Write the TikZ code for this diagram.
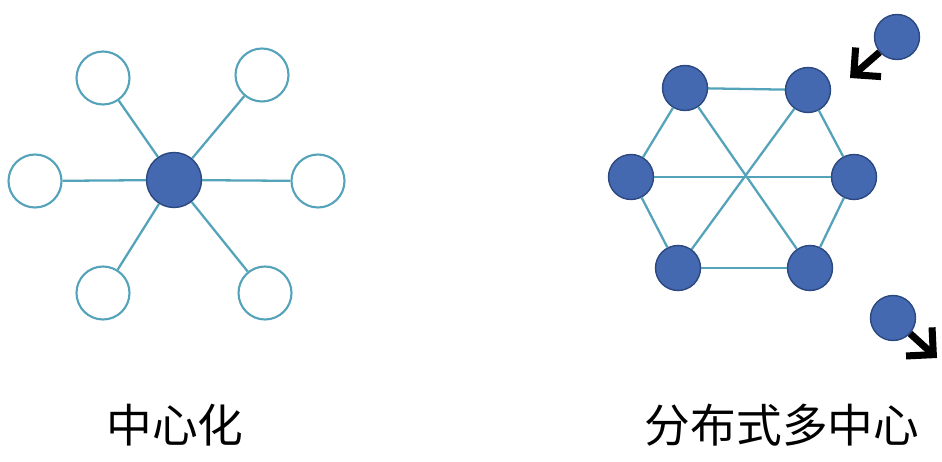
\documentclass[tikz,border=0pt]{standalone}
\usepackage{fontspec}
\newfontfamily\cjk{Noto Sans CJK SC}
\usetikzlibrary{arrows.meta}
\definecolor{linkc}{RGB}{84,163,186}
\definecolor{hubc}{RGB}{68,105,176}
\definecolor{hubdraw}{RGB}{44,72,128}
\tikzstyle{leaf} = [draw=linkc, line width=1.2pt, fill=white, circle, minimum size=1.06cm, inner sep=0pt]
\tikzstyle{hub} = [draw=hubdraw, line width=0.8pt, fill=hubc, circle, minimum size=1.1cm, inner sep=0pt]
\tikzstyle{peer} = [draw=hubdraw, line width=0.8pt, fill=hubc, circle, minimum size=0.9cm, inner sep=0pt]
\tikzstyle{link} = [draw=linkc, line width=1.3pt]
\tikzstyle{move} = [line width=4pt, -{Straight Barb[length=11pt,width=22pt]}]
\tikzstyle{caption} = [font=\cjk\fontsize{26}{30}\selectfont]

\begin{document}
\begin{tikzpicture}[x=0.02cm,y=-0.02cm]
	\useasboundingbox (0,0) rectangle (942,462);
	% centralised star
	\node [hub] (c) at (174,180) {};
	\node [leaf] (l1) at (103,78) {};
	\node [leaf] (l2) at (262,75) {};
	\node [leaf] (l3) at (35,181) {};
	\node [leaf] (l4) at (318,181) {};
	\node [leaf] (l5) at (103,293) {};
	\node [leaf] (l6) at (265,293) {};
	\foreach \i in {1,...,6}
		\draw [link] (c) -- (l\i);

	% distributed hexagon
	\node [peer] (p1) at (685,88) {};
	\node [peer] (p2) at (808,90) {};
	\node [peer] (p3) at (854,177) {};
	\node [peer] (p4) at (810,268) {};
	\node [peer] (p5) at (678,268) {};
	\node [peer] (p6) at (631,177) {};
	\draw [link] (p1) -- (p2);
	\draw [link] (p2) -- (p3);
	\draw [link] (p3) -- (p4);
	\draw [link] (p4) -- (p5);
	\draw [link] (p5) -- (p6);
	\draw [link] (p6) -- (p1);
	\draw [link] (p1) -- (p4);
	\draw [link] (p2) -- (p5);
	\draw [link] (p6) -- (p3);

	% joining and leaving nodes
	\node [peer] (j) at (897,37) {};
	\node [peer] (q) at (893,318) {};
	\coordinate (jt) at (850,78);
	\coordinate (qt) at (937,358);
	\draw [move] (j) -- (jt);
	\draw [move] (q) -- (qt);

	% captions
	\node [caption] (t1) at (175,425) {中心化};
	\node [caption] (t2) at (782,425) {分布式多中心};
\end{tikzpicture}
\end{document}
